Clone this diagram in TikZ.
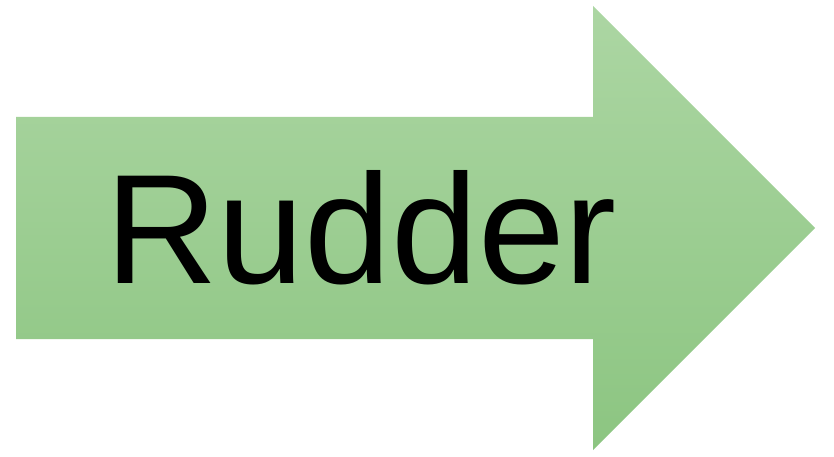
\documentclass[tikz,border=0pt]{standalone}
\usepackage{fontspec}
\setmainfont{Liberation Sans}
\begin{document}
\begin{tikzpicture}[x=1pt,y=-1pt,
  arrowshape/.style={top color=arrowtop,bottom color=arrowbot,draw=none},
  labeltext/.style={font=\fontsize{156}{160}\selectfont,text=black,inner sep=0pt,anchor=base}]
\definecolor{arrowtop}{HTML}{ACD6A3}
\definecolor{arrowbot}{HTML}{8CC581}
\useasboundingbox (0,0) rectangle (834,457);
\path[arrowshape] (16,117) -- (593,117) -- (593,6) -- (815,228) -- (593,450) -- (593,339) -- (16,339) -- cycle;
\node[labeltext] (label) at (361,283) {Rudder};
\end{tikzpicture}
\end{document}
